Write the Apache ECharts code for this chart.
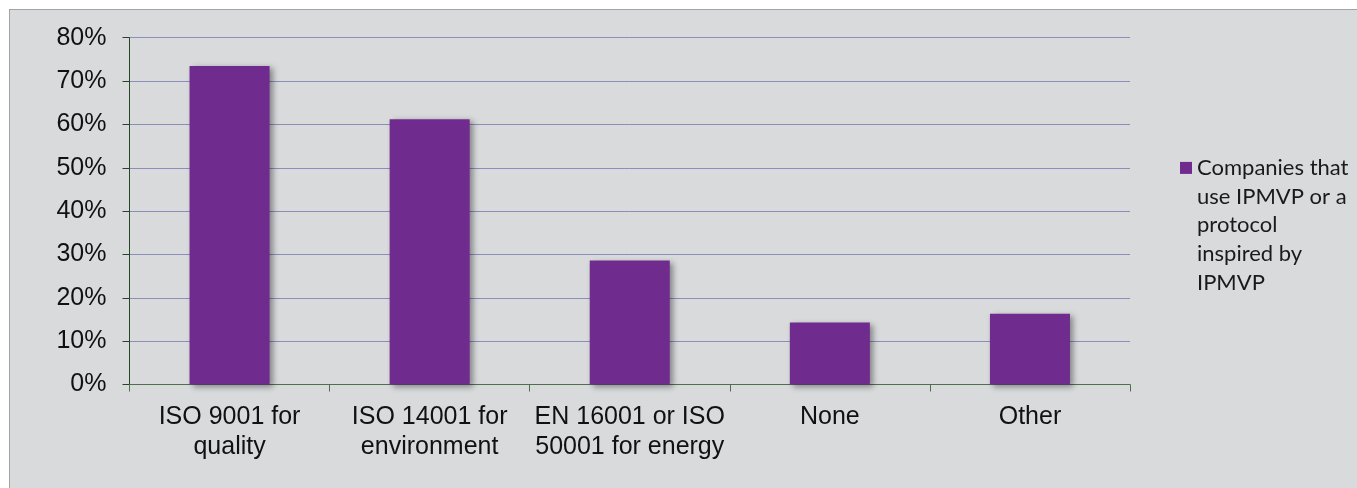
<!DOCTYPE html>
<html><head><meta charset="utf-8">
<script src="https://cdn.jsdelivr.net/npm/echarts@6/dist/echarts.min.js"></script>
<style>
html,body{margin:0;padding:0;background:#fff;}
#wrap{position:relative;width:1357px;height:488px;overflow:hidden;}
#bg{position:absolute;left:9px;top:9px;width:1400px;height:600px;background:#d9dadc;border:1.5px solid #a3a3a3;}
#chart{position:absolute;left:0;top:0;width:1357px;height:488px;}
</style></head><body>
<div id="wrap"><div id="bg"></div><div id="chart"></div></div>
<script>
const categories = ['ISO 9001 for\nquality', 'ISO 14001 for\nenvironment', 'EN 16001 or ISO\n50001 for energy', 'None', 'Other'];
const values = [73.5, 61.2, 28.6, 14.3, 16.3];
const seriesName = 'Companies that use IPMVP or a protocol inspired by IPMVP';
const legendLines = ['Companies that', 'use IPMVP or a', 'protocol', 'inspired by', 'IPMVP'];
const yMin = 0, yMax = 80, yStep = 10;

const chart = echarts.init(document.getElementById('chart'), null, {renderer: 'canvas'});
chart.setOption({
  backgroundColor: 'transparent',
  animation: false,
  grid: {left: 129.5, right: 227, top: 37.7, bottom: 103.5, containLabel: false},
  legend: {
    left: 1180, top: 38.75, orient: 'vertical', padding: 0,
    itemWidth: 12, itemHeight: 12, icon: 'rect', selectedMode: false,
    textStyle: {fontFamily: 'Lato', fontSize: 22, color: '#1a1a1a', lineHeight: 28.7},
    // leading blank lines keep the first text line level with the legend square
    formatter: () => ' \n \n \n \n' + legendLines.join('\n'),
    data: [seriesName]
  },
  xAxis: {
    type: 'category', data: categories,
    axisLine: {lineStyle: {color: '#4f6f4f', width: 1}},
    axisTick: {show: true, length: 7, alignWithLabel: false, lineStyle: {color: '#4f6f4f'}},
    axisLabel: {margin: 18, fontFamily: 'Liberation Sans', fontSize: 25, color: '#111', lineHeight: 30, interval: 0},
    splitLine: {show: false}
  },
  yAxis: {
    type: 'value', min: yMin, max: yMax, interval: yStep,
    axisLine: {show: true, lineStyle: {color: '#254525', width: 1}},
    axisTick: {show: true, length: 7, lineStyle: {color: '#254525'}},
    axisLabel: {margin: 23, fontFamily: 'Liberation Sans', fontSize: 25, color: '#111', formatter: '{value}%'},
    splitLine: {show: true, lineStyle: {color: '#8b8dba', width: 1}}
  },
  series: [{
    name: seriesName, type: 'bar', data: values, barWidth: '40%',
    itemStyle: {color: '#6f2b8e', shadowBlur: 6, shadowColor: 'rgba(0,0,0,0.4)', shadowOffsetX: 3, shadowOffsetY: 2}
  }]
});
</script>
</body></html>
